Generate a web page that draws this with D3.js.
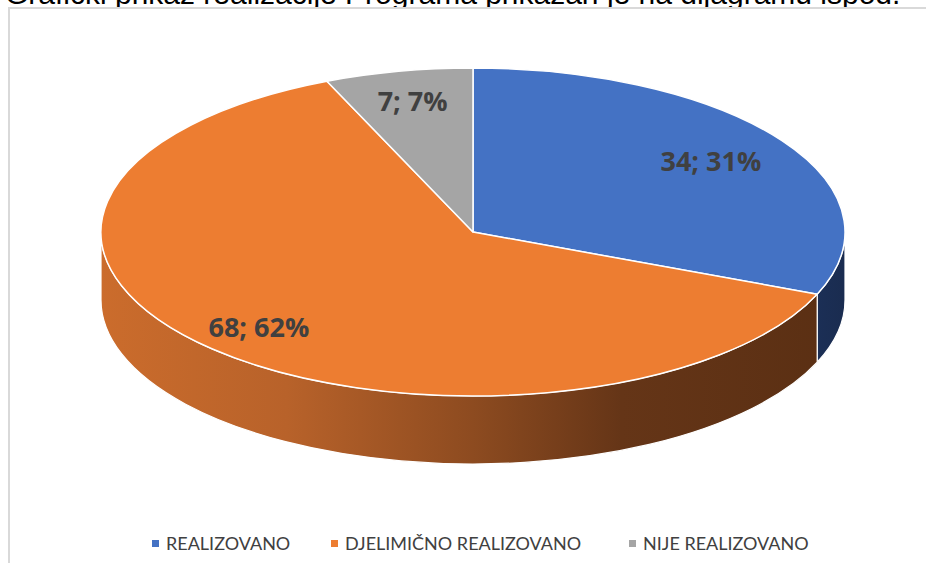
<!DOCTYPE html>
<html><head><meta charset="utf-8">
<script src="https://cdn.jsdelivr.net/npm/d3@7"></script>
<style>html,body{margin:0;padding:0;background:#fff;overflow:hidden}</style>
</head><body>
<svg id="chart" width="926" height="563"></svg>
<script>
const categories = ["REALIZOVANO", "DJELIMIČNO REALIZOVANO", "NIJE REALIZOVANO"];
const values = [34, 68, 7];
const percents = [31, 62, 7];
const colors = ["#4472c4", "#ed7d31", "#a5a5a5"];
const titleText = "Grafički prikaz realizacije Programa prikazan je na dijagramu ispod.";

(function () {
const svg = d3.select("#chart");
const W = 926, H = 563;

// page text above the chart frame (cut off)
svg.append("text").attr("x", 5).attr("y", 4)
  .attr("font-family", "Liberation Sans, Arial, sans-serif").attr("font-size", 30)
  .attr("fill", "#000").text(titleText);

// chart frame
svg.append("rect").attr("x", 9).attr("y", 8).attr("width", W + 20).attr("height", H + 20)
  .attr("fill", "#fff").attr("stroke", "#d9d9d9").attr("stroke-width", 2);

const cx = 473, cy = 232, rx = 372, ry = 164, depth = 68;
const pie = d3.pie().sort(null).value(d => d)(values);
const P = (a, dy = 0) => [cx + rx * Math.sin(a), cy - ry * Math.cos(a) + dy];

const defs = svg.append("defs");
const gO = defs.append("linearGradient").attr("id", "sideO").attr("gradientUnits", "userSpaceOnUse")
  .attr("x1", cx - rx).attr("x2", cx + rx).attr("y1", 0).attr("y2", 0);
[[0, "#cb6c2c"], [0.25, "#b8622a"], [0.5, "#8d4b20"], [0.7, "#653517"], [1, "#5a2f13"]]
  .forEach(([o, c]) => gO.append("stop").attr("offset", o).attr("stop-color", c));
const gB = defs.append("linearGradient").attr("id", "sideB").attr("gradientUnits", "userSpaceOnUse")
  .attr("x1", cx + rx - 40).attr("x2", cx + rx).attr("y1", 0).attr("y2", 0);
[[0, "#1c3058"], [1, "#1a2c50"]].forEach(([o, c]) => gB.append("stop").attr("offset", o).attr("stop-color", c));
const gG = defs.append("linearGradient").attr("id", "sideG").attr("gradientUnits", "userSpaceOnUse")
  .attr("x1", cx - rx).attr("x2", cx + rx).attr("y1", 0).attr("y2", 0);
[[0, "#8a8a8a"], [1, "#4d4d4d"]].forEach(([o, c]) => gG.append("stop").attr("offset", o).attr("stop-color", c));
const sideFill = ["url(#sideB)", "url(#sideO)", "url(#sideG)"];

// sides (front half: angles PI/2 .. 3PI/2)
const sidesG = svg.append("g");
pie.forEach((d, i) => {
  const s = Math.max(d.startAngle, Math.PI / 2), e = Math.min(d.endAngle, 3 * Math.PI / 2);
  if (e <= s) return;
  const a = P(s), b = P(e), b2 = P(e, depth), a2 = P(s, depth);
  const path = `M${a[0]},${a[1]} A${rx},${ry} 0 0 1 ${b[0]},${b[1]} L${b2[0]},${b2[1]} A${rx},${ry} 0 0 0 ${a2[0]},${a2[1]} Z`;
  sidesG.append("path").attr("d", path).attr("fill", sideFill[i])
    .attr("stroke", "#fff").attr("stroke-width", 1.2).attr("stroke-linejoin", "round");
});

// top face
const topG = svg.append("g");
pie.forEach((d, i) => {
  const a = P(d.startAngle), b = P(d.endAngle);
  const large = d.endAngle - d.startAngle > Math.PI ? 1 : 0;
  topG.append("path")
    .attr("d", `M${cx},${cy} L${a[0]},${a[1]} A${rx},${ry} 0 ${large} 1 ${b[0]},${b[1]} Z`)
    .attr("fill", colors[i]).attr("stroke", "#fff").attr("stroke-width", 1.5).attr("stroke-linejoin", "round");
});

// data labels
const labelR = [0.77, 0.82, 0.81];
pie.forEach((d, i) => {
  const m = (d.startAngle + d.endAngle) / 2;
  const x = cx + rx * labelR[i] * Math.sin(m), y = cy - ry * labelR[i] * Math.cos(m);
  svg.append("text").attr("x", x).attr("y", y).attr("dy", "0.35em")
    .attr("text-anchor", "middle")
    .attr("font-family", "Open Sans, sans-serif").attr("font-weight", 700).attr("font-size", 27)
    .attr("fill", "#404040").text(`${values[i]}; ${percents[i]}%`);
});

// legend
const legX = [152, 331, 629];
const leg = svg.append("g");
categories.forEach((c, i) => {
  leg.append("rect").attr("x", legX[i]).attr("y", 540).attr("width", 7).attr("height", 7).attr("fill", colors[i]);
  leg.append("text").attr("x", legX[i] + 14).attr("y", 550)
    .attr("font-family", "Lato, sans-serif").attr("font-size", 18).attr("fill", "#404040").text(c);
});
})();
</script>
</body></html>
